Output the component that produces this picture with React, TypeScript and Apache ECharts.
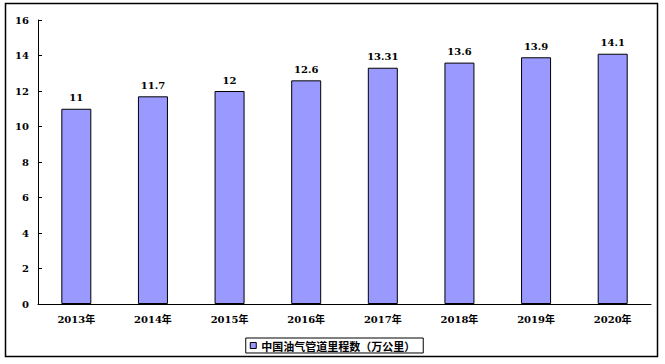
import React, { useEffect, useRef } from "react";
import * as echarts from "echarts";

const categories = ["2013年", "2014年", "2015年", "2016年", "2017年", "2018年", "2019年", "2020年"];
const values = [11, 11.7, 12, 12.6, 13.31, 13.6, 13.9, 14.1];
const valueLabels = ["11", "11.7", "12", "12.6", "13.31", "13.6", "13.9", "14.1"];
const seriesName = "中国油气管道里程数（万公里）";

const FONT = "'DejaVu Serif', 'Noto Sans CJK SC', serif";

export default function App() {
  const ref = useRef<HTMLDivElement>(null);
  useEffect(() => {
    const chart = echarts.init(ref.current!, undefined, { renderer: "svg" });
    chart.setOption({
      animation: false,
      backgroundColor: "#ffffff",
      graphic: [
        {
          type: "rect",
          shape: { x: 5.5, y: 3.5, width: 652, height: 353 },
          style: { fill: "none", stroke: "#000", lineWidth: 1.5 },
          z: 0,
        },
      ],
      grid: { left: 38, right: 14, top: 20, bottom: 60 },
      legend: {
        bottom: 11,
        left: "center",
        itemWidth: 6,
        itemHeight: 6,
        itemGap: 4,
        padding: [2, 8, 2, 4],
        borderColor: "#000",
        borderWidth: 1,
        itemStyle: { borderColor: "#000", borderWidth: 1 },
        textStyle: { fontFamily: "'Noto Sans CJK SC', sans-serif", fontWeight: "bold", fontSize: 11, color: "#000" },
        data: [{ name: seriesName, icon: "rect" }],
      },
      xAxis: {
        type: "category",
        data: categories,
        axisLine: { lineStyle: { color: "#000", width: 1 } },
        axisTick: { inside: true, length: 4, lineStyle: { color: "#000" } },
        axisLabel: { fontFamily: FONT, fontWeight: "bold", fontSize: 10, color: "#000", margin: 10 },
      },
      yAxis: {
        type: "value",
        min: 0,
        max: 16,
        interval: 2,
        axisLine: { show: true, lineStyle: { color: "#000", width: 1 } },
        axisTick: { show: true, inside: true, length: 4, lineStyle: { color: "#000" } },
        splitLine: { show: false },
        axisLabel: { fontFamily: FONT, fontWeight: "bold", fontSize: 10, color: "#000", margin: 9 },
      },
      series: [
        {
          name: seriesName,
          type: "bar",
          data: values,
          barWidth: 30,
          itemStyle: { color: "#9999FF", borderColor: "#000", borderWidth: 1 },
          label: {
            show: true,
            position: "top",
            distance: 6,
            formatter: (p: any) => valueLabels[p.dataIndex],
            fontFamily: FONT,
            fontWeight: "bold",
            fontSize: 10,
            color: "#000",
          },
        },
      ],
    });
    return () => chart.dispose();
  }, []);
  return (
    <div
      ref={ref}
      style={{ position: "absolute", left: 0, top: 0, width: 665, height: 364 }}
    />
  );
}
